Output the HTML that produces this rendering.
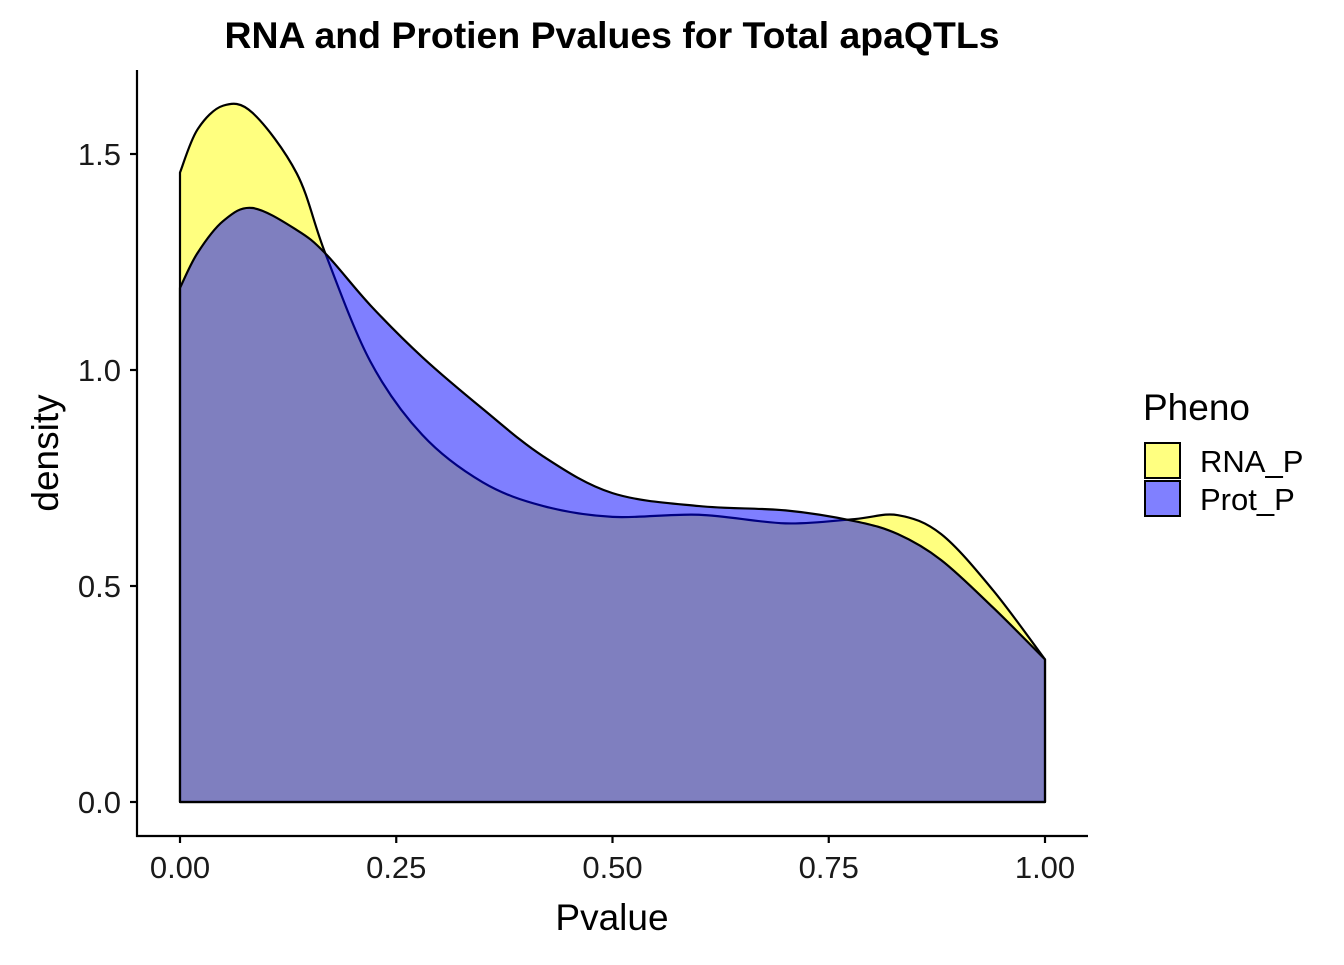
<!DOCTYPE html>
<html><head><meta charset="utf-8"><style>
body{margin:0;background:#fff}
svg text{font-family:"Liberation Sans",Arial,sans-serif}
</style></head><body>
<svg id="chart" width="1344" height="960" viewBox="0 0 1344 960">
<text x="612" y="48" text-anchor="middle" font-size="37" font-weight="bold" textLength="775" lengthAdjust="spacingAndGlyphs">RNA and Protien Pvalues for Total apaQTLs</text>
<g id="plot"></g>
<g id="axes"></g>
<text x="612" y="930" text-anchor="middle" font-size="37">Pvalue</text>
<text transform="translate(58,453) rotate(-90)" text-anchor="middle" font-size="37">density</text>
<g>
<text x="1143" y="420" font-size="37">Pheno</text>
<rect x="1145" y="443" width="35" height="35" fill="#ffff80" stroke="#000" stroke-width="2"/>
<rect x="1145" y="481" width="35" height="35" fill="#8080ff" stroke="#000" stroke-width="2"/>
<text x="1200" y="472" font-size="31">RNA_P</text>
<text x="1200" y="510" font-size="31">Prot_P</text>
</g>
</svg>
<script>
const xVals = [0,0.02,0.05,0.084,0.135,0.168,0.22,0.28,0.35,0.42,0.5,0.6,0.7,0.78,0.83,0.88,0.94,1.0];
const rnaDensity = [1.457,1.556,1.612,1.595,1.455,1.27,1.02,0.85,0.74,0.685,0.66,0.665,0.645,0.655,0.664,0.62,0.49,0.33];
const protDensity = [1.19,1.27,1.345,1.375,1.324,1.27,1.15,1.03,0.91,0.8,0.715,0.685,0.675,0.65,0.62,0.56,0.45,0.33];
const xTicks = [0,0.25,0.5,0.75,1.0];
const xTickLabels = ["0.00","0.25","0.50","0.75","1.00"];
const yTicks = [0,0.5,1.0,1.5];
const yTickLabels = ["0.0","0.5","1.0","1.5"];

const xs = v => 180 + v*865;
const ys = v => 802 - v*432;
const NS = "http://www.w3.org/2000/svg";
function smooth(pts){
  let d = "";
  for(let i=0;i<pts.length-1;i++){
    const p0=pts[Math.max(i-1,0)],p1=pts[i],p2=pts[i+1],p3=pts[Math.min(i+2,pts.length-1)];
    const c1=[p1[0]+(p2[0]-p0[0])/6,p1[1]+(p2[1]-p0[1])/6];
    const c2=[p2[0]-(p3[0]-p1[0])/6,p2[1]-(p3[1]-p1[1])/6];
    d+=" C"+c1+" "+c2+" "+p2;
  }
  return d;
}
const plot=document.getElementById("plot");
function area(vals,fill,name){
  const pts=xVals.map((x,i)=>[xs(x),ys(vals[i])]);
  const d="M"+xs(xVals[0])+","+ys(0)+" L"+pts[0]+smooth(pts)+" L"+xs(xVals[xVals.length-1])+","+ys(0)+" Z";
  const p=document.createElementNS(NS,"path");
  p.setAttribute("d",d);p.setAttribute("fill",fill);p.setAttribute("fill-opacity","0.5");
  p.setAttribute("stroke","#000");p.setAttribute("stroke-width","2.2");p.setAttribute("stroke-linejoin","round");
  
  
  plot.appendChild(p);
}
area(rnaDensity,"#ffff00","rna-density-area");
area(protDensity,"#0000ff","prot-density-area");

const ax=document.getElementById("axes");
function el(tag,attrs,txt){const e=document.createElementNS(NS,tag);for(const k in attrs)e.setAttribute(k,attrs[k]);if(txt!=null)e.textContent=txt;ax.appendChild(e);return e;}
const yl=el("line",{x1:137,y1:70,x2:137,y2:837,stroke:"#000","stroke-width":2.2});


const xl=el("line",{x1:136,y1:836,x2:1088,y2:836,stroke:"#000","stroke-width":2.2});


xTicks.forEach((t,i)=>{
  const tk=el("line",{x1:xs(t),y1:836,x2:xs(t),y2:843,stroke:"#000","stroke-width":2.2});
  
  
  const lb=el("text",{x:xs(t),y:878,"text-anchor":"middle","font-size":31,fill:"#1a1a1a"},xTickLabels[i]);
  
  
});
yTicks.forEach((t,i)=>{
  const tk=el("line",{x1:130,y1:ys(t),x2:137,y2:ys(t),stroke:"#000","stroke-width":2.2});
  
  
  const lb=el("text",{x:121,y:ys(t)+11,"text-anchor":"end","font-size":31,fill:"#1a1a1a"},yTickLabels[i]);
  
  
});
</script>
</body></html>
